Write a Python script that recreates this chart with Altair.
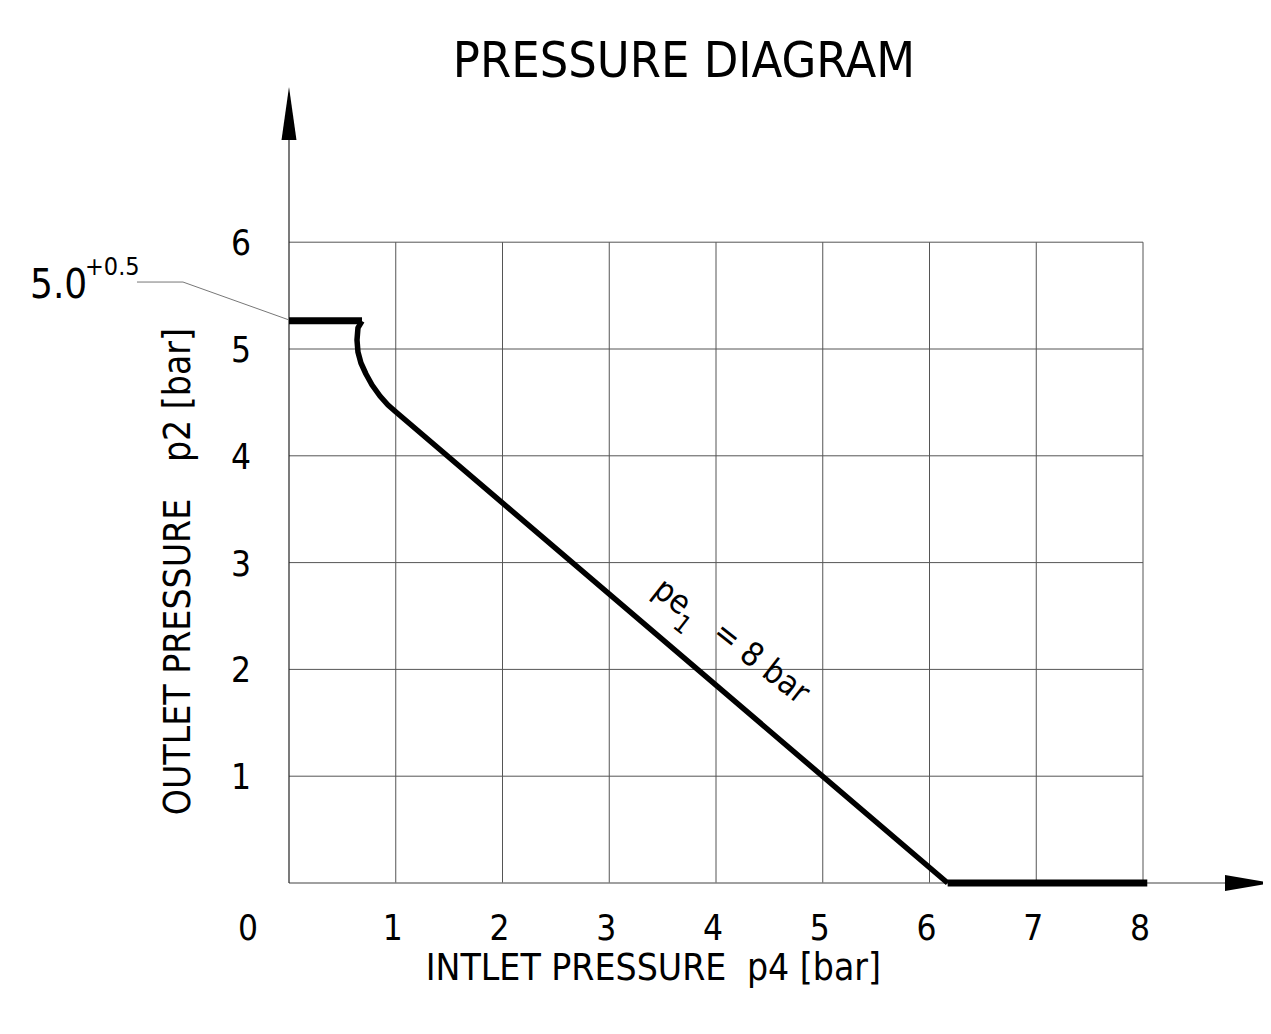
import altair as alt
import pandas as pd

FONT = "Liberation Sans Narrow, DejaVu Sans Condensed, Arial Narrow, sans-serif"

# ---- data ----
x_ticks = [1, 2, 3, 4, 5, 6, 7, 8]
y_ticks = [1, 2, 3, 4, 5, 6]
x_tick_labels = ["1", "2", "3", "4", "5", "6", "7", "8"]
y_tick_labels = ["1", "2", "3", "4", "5", "6"]

# characteristic curve (inlet p4 vs outlet p2)
curve_x = [0.684, 0.646, 0.637, 0.646, 0.674, 0.721, 0.778, 0.852, 0.927, 1.002, 6.17]
curve_y = [5.262, 5.197, 5.084, 4.972, 4.869, 4.766, 4.663, 4.560, 4.476, 4.410, 0.0]
flat_top = {"x": 0.0, "x2": 0.684, "y": 5.265}
flat_bottom = {"x": 6.17, "x2": 8.04, "y": 0.0}

set_value_text = "5.0"
set_tol_text = "+0.5"
leader_x = [-1.424, -0.993, 0.0]
leader_y = [5.627, 5.627, 5.272]

title_text = "PRESSURE DIAGRAM"
x_title_parts = ["INTLET PRESSURE", "p4 [bar]"]
y_title_parts = ["OUTLET PRESSURE", "p2 [bar]"]

# ---- scales covering the whole drawing ----
PXX = 106.75
PXY = 106.8
W, H = 1255, 1010
XMIN = -(289 - 8) / PXX
XMAX = XMIN + W / PXX
YMAX = (883 - 8) / PXY
YMIN = YMAX - H / PXY

xs = alt.Scale(domain=[XMIN, XMAX], nice=False, zero=False)
ys = alt.Scale(domain=[YMIN, YMAX], nice=False, zero=False)


def X(f="x"):
    return alt.X(f"{f}:Q", scale=xs, axis=None)


def Y(f="y"):
    return alt.Y(f"{f}:Q", scale=ys, axis=None)


GRID = "#555555"

vgrid = alt.Chart(pd.DataFrame({"x": x_ticks, "y": 0.0, "y2": 6.0})).mark_rule(
    color=GRID, strokeWidth=1
).encode(x=X(), y=Y(), y2="y2:Q")

hgrid = alt.Chart(pd.DataFrame({"y": y_ticks, "x": 0.0, "x2": 8.0})).mark_rule(
    color=GRID, strokeWidth=1
).encode(x=X(), x2="x2:Q", y=Y())

x_axis_line = alt.Chart(pd.DataFrame({"x": [0.0], "x2": [8.77], "y": [0.0]})).mark_rule(
    color="#808080", strokeWidth=1.3
).encode(x=X(), x2="x2:Q", y=Y())

y_axis_line = alt.Chart(pd.DataFrame({"x": [0.0], "y": [0.0], "y2": [6.96]})).mark_rule(
    color="#222222", strokeWidth=1.2
).encode(x=X(), y=Y(), y2="y2:Q")

up_arrow = alt.Chart(pd.DataFrame({"x": [0.0], "y": [7.205]})).mark_point(
    shape="M0,-1L0.283,1L-0.283,1Z", size=2809, filled=True, color="black", opacity=1, strokeWidth=0
).encode(x=X(), y=Y())

right_arrow = alt.Chart(pd.DataFrame({"x": [8.988], "y": [0.0]})).mark_point(
    shape="M1,0L-1,0.34L-1,-0.34Z", size=2209, filled=True, color="black", opacity=1, strokeWidth=0
).encode(x=X(), y=Y())

curve = alt.Chart(pd.DataFrame({"x": curve_x, "y": curve_y, "o": list(range(len(curve_x)))})).mark_line(
    color="black", strokeWidth=5.5, strokeJoin="round"
).encode(x=X(), y=Y(), order="o:Q")

flats = alt.Chart(pd.DataFrame([flat_top, flat_bottom])).mark_rule(
    color="black", strokeWidth=7
).encode(x=X(), x2="x2:Q", y=Y())

leader = alt.Chart(pd.DataFrame({"x": leader_x, "y": leader_y, "o": [0, 1, 2]})).mark_line(
    color="#777777", strokeWidth=1
).encode(x=X(), y=Y(), order="o:Q")

x_labels = alt.Chart(pd.DataFrame({"x": x_ticks, "t": x_tick_labels, "y": -0.534})).mark_text(
    font=FONT, fontSize=35, align="center", baseline="alphabetic", dx=-3, color="black"
).encode(x=X(), y=Y(), text="t:N")

zero_label = alt.Chart(pd.DataFrame({"x": [-0.384], "y": [-0.534], "t": ["0"]})).mark_text(
    font=FONT, fontSize=35, align="center", baseline="alphabetic", color="black"
).encode(x=X(), y=Y(), text="t:N")

y_labels = alt.Chart(pd.DataFrame({"y": y_ticks, "t": y_tick_labels, "x": -0.45})).mark_text(
    font=FONT, fontSize=35, align="center", baseline="middle", dy=2, color="black"
).encode(x=X(), y=Y(), text="t:N")

title = alt.Chart(pd.DataFrame({"x": [3.70], "y": [7.547], "t": [title_text]})).mark_text(
    font=FONT, fontSize=50, align="center", baseline="alphabetic", color="black"
).encode(x=X(), y=Y(), text="t:N")

x_title = alt.Chart(pd.DataFrame({"x": [2.689, 4.918], "y": [-0.908, -0.908], "t": x_title_parts})).mark_text(
    font=FONT, fontSize=37, align="center", baseline="alphabetic", color="black"
).encode(x=X(), y=Y(), text="t:N")

y_title = alt.Chart(pd.DataFrame({"x": [-0.927, -0.927], "y": [2.116, 4.569], "t": y_title_parts})).mark_text(
    font=FONT, fontSize=37, align="center", baseline="alphabetic", angle=270, color="black"
).encode(x=X(), y=Y(), text="t:N")

set_value = alt.Chart(pd.DataFrame({"x": [-2.426], "y": [5.478], "t": [set_value_text]})).mark_text(
    font=FONT, fontSize=40, align="left", baseline="alphabetic", color="black"
).encode(x=X(), y=Y(), text="t:N")

set_tol = alt.Chart(pd.DataFrame({"x": [-1.911], "y": [5.693], "t": [set_tol_text]})).mark_text(
    font=FONT, fontSize=25, align="left", baseline="alphabetic", color="black"
).encode(x=X(), y=Y(), text="t:N")

pe_main = alt.Chart(pd.DataFrame({"x": [3.588, 4.422], "y": [2.678, 2.060], "t": ["pe", "= 8 bar"]})).mark_text(
    font=FONT, fontSize=33, align="center", baseline="middle", angle=38, color="black"
).encode(x=X(), y=Y(), text="t:N")

pe_sub = alt.Chart(pd.DataFrame({"x": [3.681], "y": [2.416], "t": ["1"]})).mark_text(
    font=FONT, fontSize=25, align="center", baseline="middle", angle=38, color="black"
).encode(x=X(), y=Y(), text="t:N")

chart = alt.layer(
    vgrid, hgrid, x_axis_line, y_axis_line, up_arrow, right_arrow, leader,
    curve, flats, x_labels, zero_label, y_labels, title, x_title, y_title,
    set_value, set_tol, pe_main, pe_sub
).properties(
    width=W, height=H, autosize=alt.AutoSizeParams(type="none"), padding=0,
    background="white"
).configure_view(strokeWidth=0)

chart.save("out.html", embed_options={"renderer": "svg", "actions": False})
